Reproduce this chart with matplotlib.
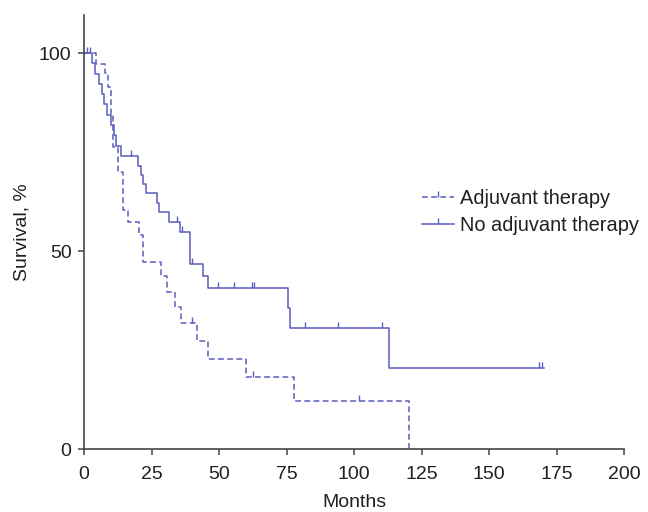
import matplotlib
matplotlib.use("Agg")
import matplotlib.pyplot as plt
from matplotlib.path import Path
from matplotlib.lines import Line2D

# ---- data ----
times_no = [0, 3, 4.2, 5.5, 6.5, 7.5, 8.5, 10, 11, 12, 13.6, 20.1, 21, 22, 22.8,
            26.9, 27.8, 31.6, 35.6, 39.4, 43.9, 46, 75.5, 76.2, 113.1, 170.5]
surv_no = [100, 97.4, 94.8, 92.2, 89.6, 87, 84.4, 81.8, 79.2, 76.6, 74, 71.5, 69.2,
           66.9, 64.7, 62.2, 59.8, 57.4, 54.9, 46.6, 43.7, 40.7, 35.5, 30.5, 20.4, 20.4]
cens_no_t = [1.2, 2.1, 17.4, 34.6, 36.3, 40.1, 49.5, 55.4, 62.1, 62.8, 81.9, 94.2,
             110.2, 168.6, 169.7]
cens_no_s = [100, 100, 74, 57.4, 54.9, 46.6, 40.7, 40.7, 40.7, 40.7, 30.5, 30.5,
             30.5, 20.4, 20.4]

times_adj = [0, 4.3, 7.8, 9, 9.9, 10.9, 12.5, 14.5, 16.4, 20.4, 21.9, 28.5, 30.6,
             33.6, 36.1, 42, 46, 60, 77.9, 120.5]
surv_adj = [100, 97.3, 94.9, 91.5, 84.7, 76.2, 69.9, 60.4, 57.4, 54, 47.1, 43.7,
            39.7, 35.9, 31.9, 27.3, 22.7, 18.1, 12.1, 0]
cens_adj_t = [40.1, 62.7, 101.9]
cens_adj_s = [31.9, 18.1, 12.1]

x_ticks = [0, 25, 50, 75, 100, 125, 150, 175, 200]
y_ticks = [0, 50, 100]
labels = ["Adjuvant therapy", "No adjuvant therapy"]

# ---- style ----
color = "#5a5ebd"
txt = "#231f20"
plt.rcParams["font.family"] = ["Liberation Sans", "DejaVu Sans"]
plt.rcParams["font.size"] = 14
plt.rcParams["text.color"] = txt

tick_marker = Path([(0, 0), (0, 1)], [Path.MOVETO, Path.LINETO])

fig = plt.figure(figsize=(6.48, 5.12), dpi=100)
ax = fig.add_axes([84 / 648, 1 - 449 / 512, 540 / 648, 434 / 512])

lw = 1.1
dashes = (3.8, 2.2)
ax.step(times_adj, surv_adj, where="post", color=color, lw=lw, dashes=dashes)
ax.step(times_no, surv_no, where="post", color=color, lw=lw)
ax.plot(cens_adj_t, cens_adj_s, ls="none", marker=tick_marker, markersize=9,
        mec=color, mew=1.0)
ax.plot(cens_no_t, cens_no_s, ls="none", marker=tick_marker, markersize=9,
        mec=color, mew=1.0)

ax.set_xlim(0, 200)
ax.set_ylim(0, 109.6)
ax.set_xticks(x_ticks)
ax.set_yticks(y_ticks)
for s in ["top", "right"]:
    ax.spines[s].set_visible(False)
for s in ["left", "bottom"]:
    ax.spines[s].set_color("#444444")
    ax.spines[s].set_linewidth(1.2)
ax.tick_params(direction="out", length=4, width=1.1, color="#444444",
               labelcolor=txt, labelsize=14)
ax.tick_params(axis="x", pad=8)
ax.tick_params(axis="y", pad=5)
ax.set_xlabel("Months", color=txt, fontsize=14, labelpad=8)
ax.set_ylabel("Survival, %", color=txt, fontsize=14, labelpad=6)

handles = [
    Line2D([], [], color=color, lw=lw, dashes=dashes, marker=tick_marker,
           markersize=9, mec=color, mew=1.0),
    Line2D([], [], color=color, lw=lw, marker=tick_marker, markersize=9,
           mec=color, mew=1.0),
]
fig.legend(handles, labels, loc="upper left",
           bbox_to_anchor=(422 / 648, 1 - 189 / 512), bbox_transform=fig.transFigure,
           frameon=False, borderpad=0, borderaxespad=0, handlelength=1.6,
           handletextpad=0.3, labelspacing=0.42, numpoints=1, fontsize=14.4)

fig.savefig("out.png", dpi=100)
